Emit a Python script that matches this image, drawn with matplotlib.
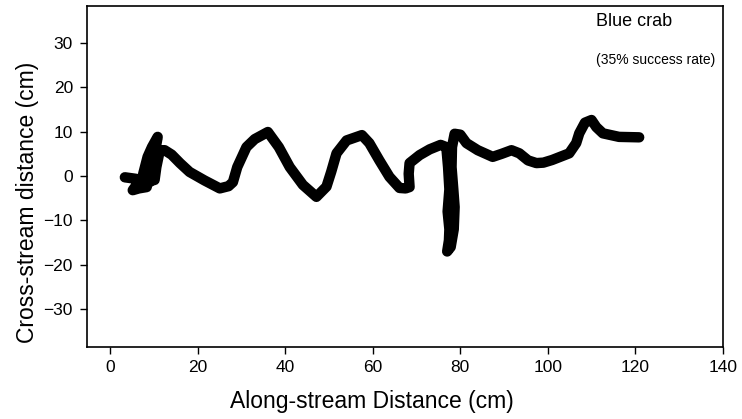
import matplotlib
matplotlib.use('Agg')
import matplotlib.pyplot as plt

plt.rcParams['font.family'] = ['Liberation Sans', 'DejaVu Sans']

# path of the blue crab (cm)
along = [3.3, 5.5, 7.4, 6.0, 5.1, 6.5, 8.3, 7.5, 8.5, 9.5, 10.8, 10.3, 9.3, 8.8,
         9.5, 10.1, 10.5, 11.3, 12.4, 14.0, 15.9, 18.1, 21.5, 25.0, 27.0, 28.0,
         29.0, 31.1, 33.0, 36.0, 38.5, 41.0, 44.0, 47.1, 49.4, 50.5, 51.7, 54.0,
         57.5, 59.2, 61.5, 63.8, 66.1, 67.5, 68.4, 68.2, 68.4, 70.7, 73.0, 75.5,
         76.8, 77.2, 77.5, 77.1, 77.5, 77.4, 77.0, 77.8, 78.5, 78.7, 78.4, 78.0,
         78.1, 78.7, 80.0, 81.4, 84.0, 87.4, 89.5, 91.7, 93.5, 95.5, 97.4, 99.0,
         101.0, 104.9, 106.5, 107.2, 108.5, 110.0, 111.1, 112.6, 116.3, 120.9]
cross = [-0.3, -0.6, -0.9, -2.0, -3.2, -2.8, -2.5, 0.5, 4.3, 6.5, 8.8, 6.0, 2.0,
         -1.5, -1.0, -0.9, 2.0, 5.8, 5.8, 4.8, 2.9, 0.9, -1.0, -2.8, -2.3, -1.4,
         2.0, 6.5, 8.3, 9.9, 6.5, 2.0, -2.0, -4.7, -2.4, 1.0, 5.1, 8.0, 9.2, 7.4,
         3.5, -0.2, -2.7, -2.8, -2.5, 0.5, 2.9, 4.7, 6.0, 7.0, 6.5, 2.0, -3.0,
         -8.0, -12.0, -14.5, -17.0, -16.0, -12.0, -7.0, -3.0, 2.0, 6.5, 9.5, 9.3,
         7.4, 5.8, 4.3, 5.0, 5.8, 5.1, 3.5, 2.9, 3.0, 3.6, 5.1, 7.4, 9.6, 12.0,
         12.6, 11.0, 9.6, 8.8, 8.7]

xticks = [0, 20, 40, 60, 80, 100, 120, 140]
yticks = [-30, -20, -10, 0, 10, 20, 30]

fig = plt.figure(figsize=(7.42, 4.19), dpi=100)
ax = fig.add_axes([0.117, 0.173, 0.857, 0.813])

ax.plot(along, cross, color='black', lw=7.5, solid_capstyle='round',
        solid_joinstyle='round')

ax.set_xlim(-5.4, 140)
ax.set_ylim(-38.4, 38.3)
ax.set_xticks(xticks)
ax.set_yticks(yticks)
ax.tick_params(direction='out', length=5, width=1, labelsize=12.5, pad=5)
for s in ax.spines.values():
    s.set_linewidth(1.2)

ax.set_xlabel('Along-stream Distance (cm)', fontsize=16.5)
ax.set_ylabel('Cross-stream distance (cm)', fontsize=16.5)
ax.xaxis.set_label_coords(0.448, -0.127)
ax.yaxis.set_label_coords(-0.0755, 0.424)

ax.text(0.80, 0.953, 'Blue crab', transform=ax.transAxes, fontsize=13,
        va='center', ha='left')
ax.text(0.80, 0.841, '(35% success rate)', transform=ax.transAxes, fontsize=10,
        va='center', ha='left')

fig.savefig('out.png', dpi=100)
